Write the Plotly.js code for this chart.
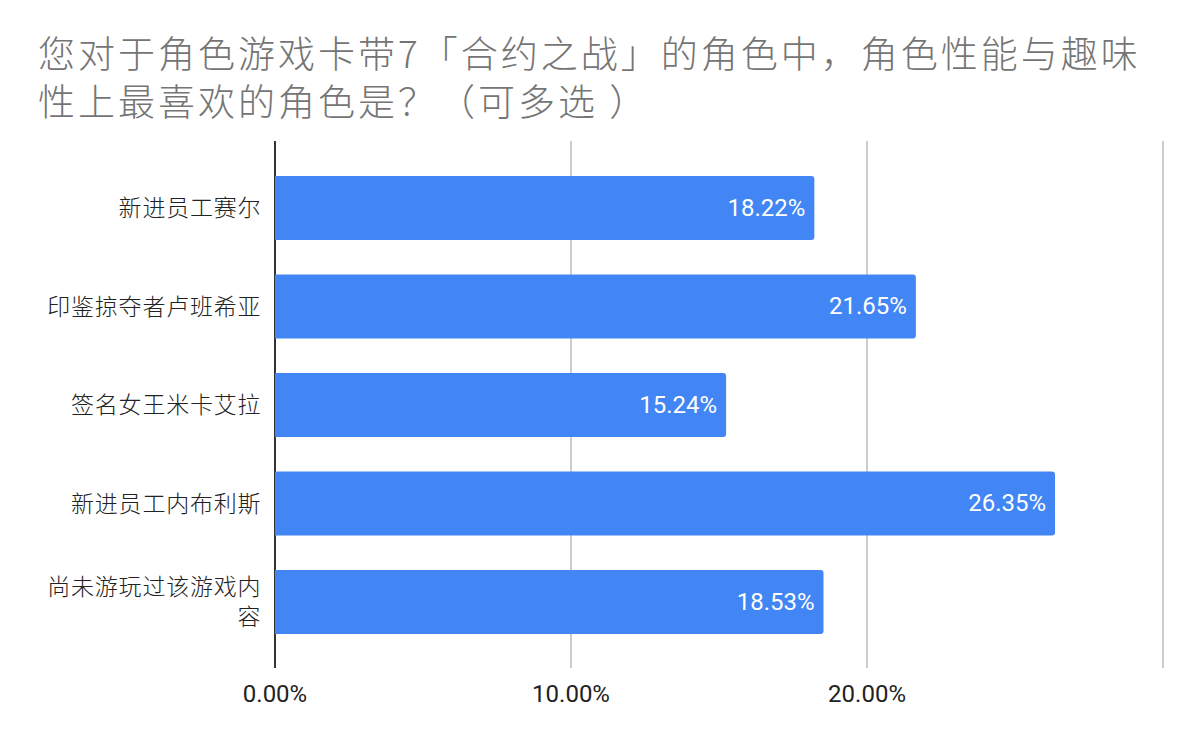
<!DOCTYPE html>
<html>
<head>
<meta charset="utf-8">
<script src="https://cdn.plot.ly/plotly-3.0.1.min.js"></script>
<style>
html,body{margin:0;padding:0;background:#fff;}
#chart{width:1200px;height:742px;}
#chart .gtitle{letter-spacing:3px;}
#chart .yaxislayer-above text{letter-spacing:0.8px;}
</style>
</head>
<body>
<div id="chart"></div>
<script>
const categories = [
  "新进员工赛尔",
  "印鉴掠夺者卢班希亚",
  "签名女王米卡艾拉",
  "新进员工内布利斯",
  "尚未游玩过该游戏内<br>容"
];
const values = [0.1822, 0.2165, 0.1524, 0.2635, 0.1853];
const xTickVals = [0, 0.1, 0.2, 0.3];
const xTickText = ["0.00%", "10.00%", "20.00%", ""];
const titleText = "您对于角色游戏卡带7「合约之战」的角色中，角色性能与趣味<br>性上最喜欢的角色是？（可多选 ）";

const cjk = '"Noto Sans CJK SC", "Noto Sans", sans-serif';
const num = 'Roboto, "Noto Sans CJK SC", sans-serif';

const trace = {
  type: 'bar',
  orientation: 'h',
  x: values,
  y: categories,
  marker: {color: '#4285F4'},
  width: 0.65,
  text: values.map(v => (v * 100).toFixed(2) + '%\u00a0'),
  textposition: 'inside',
  insidetextanchor: 'end',
  textangle: 0,
  textfont: {family: num, size: 24, color: '#ffffff'},
  constraintext: 'none',
  hoverinfo: 'none',
  cliponaxis: false
};

const layout = {
  width: 1200,
  height: 742,
  paper_bgcolor: '#ffffff',
  plot_bgcolor: '#ffffff',
  margin: {l: 275, r: 34, t: 141, b: 74, pad: 0},
  showlegend: false,
  barcornerradius: 3,
  title: {
    text: titleText,
    font: {family: cjk, size: 37, color: '#757575', weight: 300},
    x: 0, xref: 'container', xanchor: 'left',
    y: 0.946, yref: 'container', yanchor: 'top',
    pad: {t: 28, l: 38}
  },
  xaxis: {
    range: [0, 0.301],
    tickvals: xTickVals,
    ticktext: xTickText,
    showgrid: true,
    gridcolor: '#cccccc',
    gridwidth: 2,
    zeroline: true,
    zerolinecolor: '#333333',
    zerolinewidth: 2,
    showline: false,
    ticks: 'outside',
    ticklen: 4,
    tickcolor: 'rgba(0,0,0,0)',
    tickfont: {family: num, size: 24, color: '#222222'},
    fixedrange: true
  },
  yaxis: {
    type: 'category',
    range: [4.67, -0.68],
    showgrid: false,
    zeroline: false,
    showline: false,
    ticks: 'outside',
    ticklen: 8,
    tickcolor: 'rgba(0,0,0,0)',
    tickfont: {family: cjk, size: 23, color: '#222222', weight: 300},
    fixedrange: true
  }
};

Plotly.newPlot('chart', [trace], layout, {displayModeBar: false, staticPlot: true});
</script>
</body>
</html>
